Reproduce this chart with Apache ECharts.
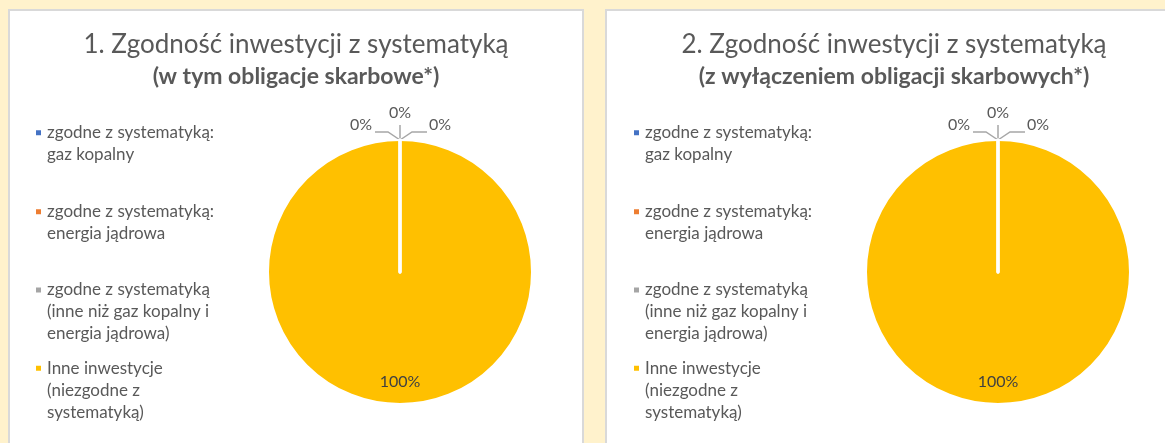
<!DOCTYPE html>
<html>
<head>
<meta charset="utf-8">
<script src="https://cdn.jsdelivr.net/npm/echarts@6/dist/echarts.min.js"></script>
<style>
html,body{margin:0;padding:0;background:#FFF2CC;}
#chart{width:1165px;height:443px;}
</style>
</head>
<body>
<div id="chart"></div>
<script>
// ---- data ----
const categories = [
  'zgodne z systematyką:\ngaz kopalny',
  'zgodne z systematyką:\nenergia jądrowa',
  'zgodne z systematyką\n(inne niż gaz kopalny i\nenergia jądrowa)',
  'Inne inwestycje\n(niezgodne z\nsystematyką)'
];
const values1 = [0, 0, 0, 100];
const values2 = [0, 0, 0, 100];
const titles = ['1. Zgodność inwestycji z systematyką', '2. Zgodność inwestycji z systematyką'];
const subtitles = ['(w tym obligacje skarbowe*)', '(z wyłączeniem obligacji skarbowych*)'];

// ---- style ----
const colors = ['#4472C4', '#ED7D31', '#A5A5A5', '#FFC000'];
const FONT = 'Lato, "Open Sans", sans-serif';
const TXT = '#595959';
const panels = [
  {left: 9, width: 574, titleX: 296, pieX: 400, legendX: 34},
  {left: 606, width: 574, titleX: 894, pieX: 998, legendX: 632}
];
const pieY = 272, pieR = 132;
const LH = 22;
const legendFirstLineY = [132.7, 211.7, 290, 368.3];
// draw order: large slice first so the zero-size slices (and their white edge) paint on top
const drawOrder = [3, 0, 1, 2];

const chart = echarts.init(document.getElementById('chart'), null, {renderer: 'canvas'});

function labelLayout(p) {
  const k = drawOrder[p.dataIndex];
  if (k === 3) return {dy: 41};
  let x0, y0;
  if (p.labelLinePoints && p.labelLinePoints[0]) {
    x0 = p.labelLinePoints[0][0]; y0 = p.labelLinePoints[0][1];
  } else {
    x0 = p.rect.x + p.rect.width / 2; y0 = p.rect.y;
  }
  if (k === 0) {
    return {x: x0 - 28, y: y0 - 15, align: 'right', verticalAlign: 'middle',
      labelLinePoints: [[x0, y0], [x0 - 12, y0 - 8], [x0 - 25, y0 - 8]]};
  }
  if (k === 1) {
    return {x: x0, y: y0 - 27, align: 'center', verticalAlign: 'middle',
      labelLinePoints: [[x0, y0], [x0, y0 - 8], [x0, y0 - 15]]};
  }
  return {x: x0 + 29, y: y0 - 15, align: 'left', verticalAlign: 'middle',
    labelLinePoints: [[x0, y0], [x0 + 12, y0 - 8], [x0 + 27, y0 - 8]]};
}

function makeData(vals) {
  return drawOrder.map(i => {
    const d = {name: categories[i], value: vals[i], itemStyle: {color: colors[i]}};
    if (i === 3) d.label = {position: 'inside', color: '#404040'};
    else d.itemStyle.borderWidth = 3;
    return d;
  });
}

const legends = [];
panels.forEach((pn, pi) => {
  categories.forEach((c, i) => {
    const n = c.split('\n').length;
    const h = (2 * n - 1) * LH;
    legends.push({
      data: [{name: c, icon: 'rect'}],
      orient: 'vertical',
      left: pn.legendX,
      top: legendFirstLineY[i] - h / 2,
      padding: 0,
      itemWidth: 7,
      itemHeight: 7,
      selectedMode: false,
      formatter: function (name) { return '\n'.repeat(name.split('\n').length - 1) + name; },
      textStyle: {fontFamily: FONT, fontSize: 17, color: TXT, lineHeight: LH}
    });
  });
});

const option = {
  backgroundColor: '#FFF2CC',
  animation: false,
  graphic: panels.map(pn => ({
    type: 'rect', z: -10, silent: true,
    shape: {x: pn.left, y: 10, width: pn.width, height: 460},
    style: {fill: '#FFFFFF', stroke: '#D9D9D9', lineWidth: 2}
  })),
  title: panels.map((pn, i) => ({
    text: titles[i],
    subtext: subtitles[i],
    left: pn.titleX,
    top: 30,
    textAlign: 'center',
    padding: 0,
    itemGap: 4,
    textStyle: {fontFamily: FONT, fontSize: 26, fontWeight: 'normal', color: TXT, lineHeight: 30},
    subtextStyle: {fontFamily: FONT, fontSize: 23, fontWeight: 'bold', color: TXT, lineHeight: 26}
  })),
  legend: legends,
  series: panels.map((pn, i) => ({
    type: 'pie',
    center: [pn.pieX, pieY],
    radius: pieR,
    startAngle: 90,
    clockwise: true,
    avoidLabelOverlap: false,
    minShowLabelAngle: 0,
    data: makeData(i === 0 ? values1 : values2),
    itemStyle: {borderColor: '#FFFFFF', borderWidth: 2},
    label: {show: true, position: 'outside', formatter: '{d}%', fontFamily: FONT, fontSize: 16, color: TXT},
    labelLine: {show: true, length: 8, length2: 12, lineStyle: {color: '#A6A6A6', width: 1.5}},
    labelLayout: labelLayout,
    emphasis: {disabled: true}
  }))
};
chart.setOption(option);
</script>
</body>
</html>
